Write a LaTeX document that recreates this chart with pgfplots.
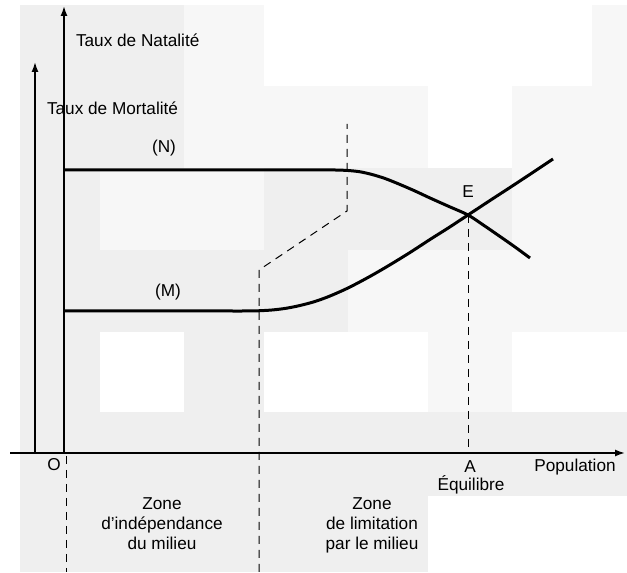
\documentclass[border=0pt]{standalone}
\usepackage{pgfplots}
\pgfplotsset{compat=1.18}
\usetikzlibrary{arrows.meta}
\usepackage{fontspec}
\setmainfont{Liberation Sans}
\definecolor{bg}{HTML}{EFEFEF}
\definecolor{lt}{HTML}{F7F7F7}
\begin{document}
\begin{tikzpicture}
\begin{axis}[
  hide axis, scale only axis,
  width=313.5pt, height=286pt,
  xmin=0, xmax=627, ymin=-572, ymax=0,
  clip=false,
  every axis plot/.append style={no markers},
  font=\fontsize{8.6}{10}\selectfont
]
% background (scan tones)
\fill[white] (axis cs:0,-572) rectangle (axis cs:627,0);
\fill[bg] (axis cs:20,-572) rectangle (axis cs:627,-5);
\fill[lt] (axis cs:184,-168) rectangle (axis cs:627,-5);
\fill[white] (axis cs:264,-86) rectangle (axis cs:592,-5);
\fill[white] (axis cs:428,-168) rectangle (axis cs:512,-86);
\fill[lt] (axis cs:100,-250) rectangle (axis cs:264,-168);
\fill[lt] (axis cs:512,-412) rectangle (axis cs:627,-168);
\fill[lt] (axis cs:348,-332) rectangle (axis cs:512,-250);
\fill[white] (axis cs:100,-412) rectangle (axis cs:184,-332);
\fill[white] (axis cs:264,-412) rectangle (axis cs:428,-332);
\fill[lt] (axis cs:428,-412) rectangle (axis cs:512,-332);
\fill[white] (axis cs:512,-412) rectangle (axis cs:627,-332);
\fill[white] (axis cs:428,-572) rectangle (axis cs:627,-496);
% axes
\addplot[line width=0.8pt, -{Latex[length=5pt,width=3.5pt]}] coordinates {(35,-452) (35,-62)};
\addplot[line width=0.8pt, -{Latex[length=5pt,width=3.5pt]}] coordinates {(64,-454) (64,-6)};
\addplot[line width=0.8pt, -{Latex[length=5pt,width=3.5pt]}] coordinates {(10,-453) (625,-453)};
% curve N (birth rate)
\addplot[line width=1.5pt, smooth] coordinates {
 (64,-170) (150,-170) (250,-170) (320,-170) (335,-170) (348,-170.5) (360,-171.8) (372,-174.5)
 (385,-178.5) (400,-184.5) (415,-191) (430,-198) (449,-206.5) (468,-215) (484,-225.5) (500,-236.5) (515,-247) (530,-258)};
% curve M (death rate)
\addplot[line width=1.5pt, smooth] coordinates {
 (64,-311) (150,-311) (220,-311) (245,-311) (258,-310.8) (272,-310) (286,-308.3) (300,-305.5) (315,-301.5) (330,-296)
 (348,-288) (368,-277.5) (388,-266) (410,-252.5) (430,-239.5) (449,-227.5) (468,-215) (490,-200.5) (510,-187.5) (532,-173) (553,-159)};
% dashed lines
\addplot[line width=0.5pt, dash pattern=on 4pt off 3pt] coordinates {(66,-456) (66,-572)};
\addplot[line width=0.5pt, dash pattern=on 4pt off 3pt] coordinates {(259,-572) (259,-270) (347,-211) (347,-124)};
\addplot[line width=0.5pt, dash pattern=on 4pt off 3pt] coordinates {(468,-215) (468,-453)};
% labels
\node[anchor=west] at (axis cs:69,-40) {Taux de Natalité};
\node[anchor=west] at (axis cs:40,-108) {Taux de Mortalité};
\node at (axis cs:164,-148) {(N)};
\node at (axis cs:168,-292) {(M)};
\node at (axis cs:468,-192) {E};
\node at (axis cs:54,-465) {O};
\node at (axis cs:470,-467) {A};
\node at (axis cs:471,-485) {Équilibre};
\node at (axis cs:575,-467) {Population};
\node[align=center] at (axis cs:162,-524) {Zone\\d'indépendance\\du milieu};
\node[align=center] at (axis cs:372,-525) {Zone\\de limitation\\par le milieu};
\end{axis}
\end{tikzpicture}
\end{document}
